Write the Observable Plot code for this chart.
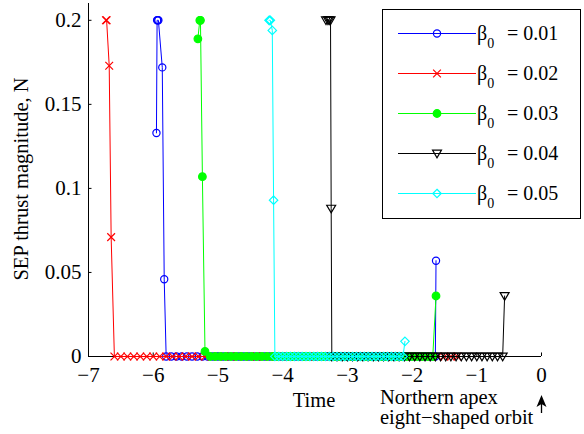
<!DOCTYPE html>
<html><head><meta charset="utf-8">
<script src="https://cdn.jsdelivr.net/npm/d3@7"></script>
<script src="https://cdn.jsdelivr.net/npm/@observablehq/plot@0.6"></script>
<style>
body{margin:0;background:#fff}
#chart{position:relative;width:584px;height:434px;overflow:hidden}
#chart svg text{font-family:"Liberation Serif", serif}
</style>
</head><body><div id="chart"></div>
<script>
// ---- data (time, thrust N) ----
const xTicks = [-7, -6, -5, -4, -3, -2, -1, 0];
const yTicks = [0, 0.05, 0.1, 0.15, 0.2];
const betaLabels = ["0.01", "0.02", "0.03", "0.04", "0.05"];
const seriesColors = ["#0000ff", "#ff0000", "#00ff00", "#000000", "#00ffff"];

const beta001 = [[-5.95,0.133],[-5.94,0.2],[-5.93,0.2],[-5.92,0.2],[-5.86,0.172],[-5.83,0.046],
 [-5.80,0],[-5.72,0],[-5.64,0],[-5.56,0],[-5.48,0],[-5.40,0],[-5.32,0],[-5.24,0],[-5.16,0],[-5.08,0],
 [-5.00,0],[-4.92,0],[-4.84,0],[-4.76,0],[-4.68,0],[-4.60,0],[-4.52,0],[-4.44,0],[-4.36,0],[-4.28,0],
 [-4.20,0],[-4.12,0],[-4.04,0],[-3.96,0],[-3.88,0],[-3.80,0],[-3.72,0],[-3.64,0],[-3.56,0],[-3.48,0],
 [-3.40,0],[-3.32,0],[-3.24,0],[-3.16,0],[-3.08,0],[-3.00,0],[-2.92,0],[-2.84,0],[-2.76,0],[-2.68,0],
 [-2.60,0],[-2.52,0],[-2.44,0],[-2.36,0],[-2.28,0],[-2.20,0],[-2.12,0],[-2.04,0],[-1.96,0],[-1.88,0],
 [-1.80,0],[-1.72,0],[-1.64,0],[-1.63,0.057]];

const beta002 = [[-6.73,0.2],[-6.72,0.2],[-6.68,0.173],[-6.65,0.071],
 [-6.60,0],[-6.50,0],[-6.40,0],[-6.30,0],[-6.20,0],[-6.10,0],[-6.00,0],[-5.90,0],[-5.80,0],[-5.70,0],
 [-5.60,0],[-5.50,0],[-5.40,0],[-5.30,0],[-5.20,0],[-5.10,0],[-5.00,0],[-4.90,0],[-4.80,0],[-4.70,0],
 [-4.60,0],[-4.50,0],[-4.40,0],[-4.30,0],[-4.20,0],[-4.10,0],[-4.00,0],[-3.90,0],[-3.80,0],[-3.70,0],
 [-3.60,0],[-3.50,0],[-3.40,0],[-3.30,0],[-3.20,0],[-3.10,0],[-3.00,0],[-2.90,0],[-2.80,0],[-2.70,0],
 [-2.60,0],[-2.50,0],[-2.40,0],[-2.30,0],[-2.20,0],[-2.10,0],[-2.00,0],[-1.90,0],[-1.80,0],[-1.70,0],
 [-1.60,0],[-1.50,0],[-1.40,0],[-1.30,0]];

const beta003 = [[-5.31,0.189],[-5.28,0.2],[-5.27,0.2],[-5.24,0.107],[-5.20,0.003],
 [-5.12,0],[-5.04,0],[-4.96,0],[-4.88,0],[-4.80,0],[-4.72,0],[-4.64,0],[-4.56,0],[-4.48,0],[-4.40,0],
 [-4.32,0],[-4.24,0],[-4.16,0],[-4.08,0],[-4.00,0],[-3.92,0],[-3.84,0],[-3.76,0],[-3.68,0],[-3.60,0],
 [-3.52,0],[-3.44,0],[-3.36,0],[-3.28,0],[-3.20,0],[-3.12,0],[-3.04,0],[-2.96,0],[-2.88,0],[-2.80,0],
 [-2.72,0],[-2.64,0],[-2.56,0],[-2.48,0],[-2.40,0],[-2.32,0],[-2.24,0],[-2.16,0],[-2.08,0],[-2.00,0],
 [-1.92,0],[-1.84,0],[-1.76,0],[-1.68,0],[-1.63,0.036]];

const beta004 = [[-3.33,0.2],[-3.30,0.2],[-3.28,0.2],[-3.26,0.2],[-3.25,0.088],
 [-3.24,0],[-3.16,0],[-3.08,0],[-3.00,0],[-2.92,0],[-2.84,0],[-2.76,0],[-2.68,0],[-2.60,0],[-2.52,0],
 [-2.44,0],[-2.36,0],[-2.28,0],[-2.20,0],[-2.12,0],[-2.04,0],[-1.96,0],[-1.88,0],[-1.80,0],[-1.72,0],
 [-1.64,0],[-1.56,0],[-1.48,0],[-1.40,0],[-1.32,0],[-1.24,0],[-1.16,0],[-1.08,0],[-1.00,0],[-0.92,0],
 [-0.84,0],[-0.76,0],[-0.68,0],[-0.60,0],[-0.57,0.036]];

const beta005 = [[-4.21,0.2],[-4.20,0.2],[-4.19,0.2],[-4.16,0.194],[-4.14,0.093],
 [-4.12,0],[-4.06,0],[-4.00,0],[-3.94,0],[-3.88,0],[-3.82,0],[-3.76,0],[-3.70,0],[-3.64,0],[-3.58,0],
 [-3.52,0],[-3.46,0],[-3.40,0],[-3.34,0],[-3.28,0],[-3.22,0],[-3.16,0],[-3.10,0],[-3.04,0],[-2.98,0],
 [-2.92,0],[-2.86,0],[-2.80,0],[-2.74,0],[-2.68,0],[-2.62,0],[-2.56,0],[-2.50,0],[-2.44,0],[-2.38,0],
 [-2.32,0],[-2.26,0],[-2.20,0],[-2.14,0],[-2.11,0.009]];

// ---- symbols ----
const triDown = {draw(ctx, size) {
  const h = Math.sqrt(size) * 0.6;
  ctx.moveTo(-h, -0.75 * h); ctx.lineTo(h, -0.75 * h); ctx.lineTo(0, 0.95 * h); ctx.closePath();
}};
const symbols = [
  {symbol: "circle", fill: "none", r: 3.6},
  {symbol: "times", fill: "none", r: 3.6},
  {symbol: "circle", fillColor: true, r: 3.8},
  {symbol: triDown, fill: "none", r: 4.2},
  {symbol: "diamond2", fill: "none", r: 3.8}
];
const allSeries = [beta001, beta002, beta003, beta004, beta005];

const seriesMarks = allSeries.flatMap((data, i) => {
  const c = seriesColors[i], s = symbols[i];
  return [
    Plot.line(data, {x: d => d[0], y: d => d[1], stroke: c, strokeWidth: 1}),
    Plot.dot(data, {x: d => d[0], y: d => d[1], stroke: c, strokeWidth: 1.2,
      fill: s.fillColor ? c : "none", symbol: s.symbol, r: s.r})
  ];
});

const fmtX = d => d < 0 ? "\u2212" + (-d) : String(d);
const FONT = "Liberation Serif";

const plot = Plot.plot({
  width: 584, height: 434,
  marginLeft: 88, marginRight: 43, marginTop: 3, marginBottom: 78,
  x: {domain: [-7, 0]},
  y: {domain: [0, 0.21]},
  style: {fontFamily: FONT, fontSize: "20px", background: "white", color: "black", overflow: "visible"},
  marks: [
    Plot.axisX(xTicks, {tickSize: 0, tickPadding: 11, tickFormat: fmtX, fontSize: 21, fontFamily: FONT, label: null}),
    Plot.axisY(yTicks, {tickSize: 0, tickPadding: 7, tickFormat: d => String(d), fontSize: 21, fontFamily: FONT, label: null}),
    Plot.ruleX(xTicks, {y1: 0, y2: 0.0021, stroke: "black"}),
    Plot.ruleY(yTicks, {x1: -7, x2: -6.946, stroke: "black"}),
    Plot.ruleX([-7], {y1: 0, y2: 0.21, stroke: "black"}),
    Plot.ruleY([0], {x1: -7, x2: 0, stroke: "black"}),
    ...seriesMarks
  ]
});

document.getElementById("chart").appendChild(plot);

// ---- annotations & legend ----
const svg = d3.select(plot);
const ann = svg.append("g").attr("font-family", FONT).attr("font-size", 20.5).attr("fill", "black").attr("text-anchor", "start");
ann.append("text").attr("x", 21).attr("y", 179).attr("text-anchor", "middle")
  .attr("transform", "rotate(-90,21,179)").attr("dy", "0.35em").text("SEP thrust magnitude, N");
ann.append("text").attr("x", 314).attr("y", 407).attr("text-anchor", "middle").text("Time");
ann.append("text").attr("x", 380).attr("y", 404).text("Northern apex");
ann.append("text").attr("x", 380).attr("y", 424).text("eight\u2212shaped orbit");
ann.append("line").attr("x1", 541.5).attr("x2", 541.5).attr("y1", 413).attr("y2", 402).attr("stroke", "black").attr("stroke-width", 1.3);
ann.append("path").attr("d", "M541.5,395 L546.5,407 L541.5,404 L536.5,407 Z").attr("fill", "black");

const leg = svg.append("g").attr("font-family", FONT).attr("fill", "black").attr("text-anchor", "start");
leg.append("rect").attr("x", 382.5).attr("y", 9.5).attr("width", 198).attr("height", 209)
  .attr("fill", "white").attr("stroke", "black").attr("stroke-width", 1);
const d3types = [d3.symbolCircle, d3.symbolTimes, d3.symbolCircle, triDown, d3.symbolDiamond2];
betaLabels.forEach((lab, i) => {
  const cy = 33.5 + i * 40;
  const c = seriesColors[i], s = symbols[i];
  leg.append("line").attr("x1", 398).attr("x2", 476).attr("y1", cy).attr("y2", cy).attr("stroke", c).attr("stroke-width", 1);
  leg.append("path").attr("transform", `translate(437,${cy})`)
    .attr("d", d3.symbol().type(d3types[i]).size(Math.PI * s.r * s.r)())
    .attr("fill", s.fillColor ? c : "none").attr("stroke", c).attr("stroke-width", 1.2);
  const t = leg.append("text").attr("x", 477).attr("y", cy + 6).attr("font-size", 20);
  t.append("tspan").text("\u03B2");
  t.append("tspan").attr("dy", 8.5).attr("font-size", 14).text("0");
  t.append("tspan").attr("x", 507).attr("dy", -8.5).text("= " + lab);
});
</script>
</body></html>
